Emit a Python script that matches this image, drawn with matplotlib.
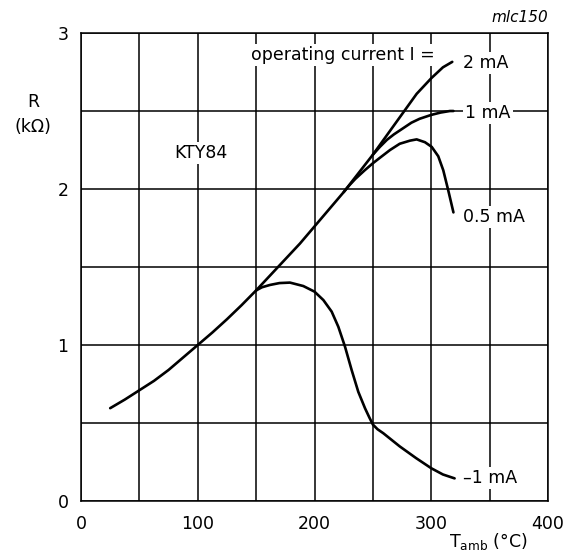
import matplotlib
matplotlib.use("Agg")
import matplotlib.pyplot as plt
import numpy as np

# the scanned datasheet text is a little wide, DejaVu matches its extent best
plt.rcParams["font.family"] = ["DejaVu Sans"]
plt.rcParams["mathtext.fontset"] = "dejavusans"

# common part of the curves (all currents)
common_t = [25, 37.5, 50, 62.5, 75, 87.5, 100, 112.5, 125, 137.5, 150]
common_r = [0.595, 0.65, 0.71, 0.77, 0.84, 0.92, 1.0, 1.08, 1.165, 1.255, 1.35]

# 2 mA
t_2ma = [150, 162.5, 175, 187.5, 200, 212.5, 225, 237.5, 250, 262.5, 275, 287.5, 300, 310, 318]
r_2ma = [1.35, 1.45, 1.55, 1.65, 1.76, 1.87, 1.98, 2.10, 2.22, 2.35, 2.48, 2.61, 2.71, 2.78, 2.815]

# 1 mA
t_1ma = [250, 256, 262, 268, 276, 283, 290, 300, 308, 316, 319]
r_1ma = [2.22, 2.27, 2.315, 2.35, 2.39, 2.425, 2.45, 2.475, 2.49, 2.50, 2.50]

# 0.5 mA
t_05ma = [225, 230, 235, 243, 250, 256, 264.7, 273, 281.8, 287.5, 294.6, 300.4, 306, 310.3, 314.6, 319]
r_05ma = [1.98, 2.025, 2.065, 2.12, 2.165, 2.20, 2.25, 2.29, 2.31, 2.318, 2.30, 2.27, 2.21, 2.12, 1.99, 1.85]

# -1 mA
t_m1ma = [150, 155, 161.9, 170, 179, 190.4, 200, 207.6, 214.7, 220.4, 226.1, 231.8, 237.5, 243.3, 247, 250,
          254, 259, 273, 287, 300, 310, 320]
r_m1ma = [1.35, 1.37, 1.385, 1.397, 1.40, 1.378, 1.342, 1.288, 1.214, 1.117, 0.99, 0.84, 0.70, 0.594, 0.535, 0.49,
          0.46, 0.434, 0.35, 0.275, 0.21, 0.17, 0.145]

x_ticks = [0, 100, 200, 300, 400]
y_ticks = [0, 1, 2, 3]

fig = plt.figure(figsize=(5.67, 5.53), dpi=100)
ax = fig.add_axes([81 / 567, 52 / 553, 467 / 567, 468 / 553])

ax.set_xlim(0, 400)
ax.set_ylim(0, 3)
ax.set_xticks(np.arange(0, 401, 50))
ax.set_yticks(np.arange(0, 3.01, 0.5))
ax.grid(True, color="black", linewidth=1.1, zorder=1)
ax.set_axisbelow(True)
for s in ax.spines.values():
    s.set_linewidth(1.1)
ax.tick_params(length=0, labelsize=12.5)
ax.set_xticklabels([str(v) if v in x_ticks else "" for v in np.arange(0, 401, 50)])
ax.set_yticklabels([str(int(v)) if v in y_ticks else "" for v in np.arange(0, 3.01, 0.5)])
ax.tick_params(axis="x", pad=10)
ax.tick_params(axis="y", pad=9)

lw = 1.9
for t, r in [(common_t, common_r), (t_2ma, r_2ma), (t_1ma, r_1ma), (t_05ma, r_05ma), (t_m1ma, r_m1ma)]:
    ax.plot(t, r, color="black", lw=lw, zorder=4, solid_capstyle="round", solid_joinstyle="round")

box = dict(facecolor="white", edgecolor="none", pad=1.5)
fs = 12.5
ax.text(146, 2.86, "operating current I =", fontsize=fs, va="center", ha="left", bbox=box, zorder=3)
ax.text(327, 2.81, "2 mA", fontsize=fs, va="center", ha="left", bbox=box, zorder=3)
ax.text(329, 2.485, "1 mA", fontsize=fs, va="center", ha="left", bbox=box, zorder=3)
ax.text(327, 1.82, "0.5 mA", fontsize=fs, va="center", ha="left", bbox=box, zorder=3)
ax.text(327, 0.145, "\u20131 mA", fontsize=fs, va="center", ha="left", bbox=box, zorder=3)
ax.text(103, 2.23, "KTY84", fontsize=fs, va="center", ha="center", bbox=box, zorder=3)

fig.text(548 / 567, 1 - 18 / 553, "mlc150", fontsize=11, style="italic", ha="right", va="center")
fig.text(33 / 567, 1 - 102 / 553, "R", fontsize=12.5, ha="center", va="center")
fig.text(33 / 567, 1 - 127 / 553, "(k\u03a9)", fontsize=12.5, ha="center", va="center")
fig.text(488 / 567, 1 - 542 / 553, r"T$_{\mathrm{amb}}$ (°C)", fontsize=12.5, ha="center", va="center")

fig.savefig("out.png", dpi=100)
